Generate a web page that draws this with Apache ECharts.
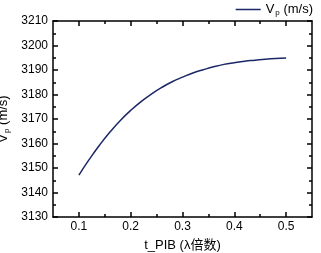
<!DOCTYPE html>
<html>
<head>
<meta charset="utf-8">
<script src="https://cdn.jsdelivr.net/npm/echarts@6/dist/echarts.min.js"></script>
<style>html,body{margin:0;padding:0;background:#fff;}#c{width:321px;height:253px;}</style>
</head>
<body>
<div id="c"></div>
<script>
const xValues = [0.10,0.12,0.14,0.16,0.18,0.20,0.22,0.24,0.26,0.28,0.30,0.32,0.34,0.36,0.38,0.40,0.42,0.44,0.46,0.48,0.50];
const vpValues = [3147.1,3153.5,3159.4,3164.7,3169.4,3173.5,3177.1,3180.2,3182.9,3185.2,3187.1,3188.8,3190.1,3191.3,3192.3,3193.0,3193.6,3194.0,3194.4,3194.7,3194.9];
const xMajorTicks = [0.1,0.2,0.3,0.4,0.5];
const xMinorTicks = [0.15,0.25,0.35,0.45];
const xTickLabels = ['0.1','0.2','0.3','0.4','0.5'];

const FONT = 'Liberation Sans, Arial, sans-serif';
const lineCol = '#1b2766';
const axisCol = '#000';

const chart = echarts.init(document.getElementById('c'), null, {renderer:'canvas'});
const baseX = {
  type:'value', min:0.05, max:0.55, gridIndex:0,
  splitLine:{show:false},
  axisLine:{show:true, lineStyle:{color:axisCol, width:1.5}},
};
const subRich = {
  v:{fontSize:13, fontFamily:FONT, color:'#000'},
  s:{fontSize:8, fontFamily:FONT, color:'#000', padding:[6,0,0,1]},
  n:{fontSize:13, fontFamily:FONT, color:'#000'}
};
chart.setOption({
  animation:false,
  backgroundColor:'#fff',
  grid:{left:53, right:9, top:21, bottom:36, containLabel:false, outerBoundsMode:'none'},
  legend:{
    show:true, right:8, top:3, padding:0,
    icon:'rect', itemWidth:25, itemHeight:1.5, itemGap:2,
    formatter:function(){return '{v|V}{s|p}{n| (m/s)}';},
    textStyle:{rich:subRich, fontFamily:FONT},
    data:[{name:'Vp'}]
  },
  xAxis:[
    Object.assign({}, baseX, {
      position:'bottom',
      name:'t_PIB (λ倍数)', nameLocation:'middle', nameGap:22,
      nameTextStyle:{fontSize:13, fontFamily:'Liberation Sans, Noto Sans CJK SC, sans-serif', color:'#000'},
      axisTick:{show:true, inside:true, length:5, lineStyle:{color:axisCol, width:1.5}, customValues:xMajorTicks},
      axisLabel:{show:true, margin:4, fontSize:12, fontFamily:FONT, color:'#000', customValues:xMajorTicks,
        formatter:function(v){const i = xMajorTicks.findIndex(t=>Math.abs(t-v)<1e-9); return i>=0?xTickLabels[i]:'';}}
    }),
    Object.assign({}, baseX, {
      position:'bottom', axisLine:{show:false},
      axisTick:{show:true, inside:true, length:3, lineStyle:{color:axisCol, width:1.5}, customValues:xMinorTicks},
      axisLabel:{show:false}
    }),
    Object.assign({}, baseX, {
      position:'top',
      axisTick:{show:true, inside:true, length:5, lineStyle:{color:axisCol, width:1.5}, customValues:xMajorTicks},
      axisLabel:{show:false}
    }),
    Object.assign({}, baseX, {
      position:'top', axisLine:{show:false},
      axisTick:{show:true, inside:true, length:3, lineStyle:{color:axisCol, width:1.5}, customValues:xMinorTicks},
      axisLabel:{show:false}
    })
  ],
  yAxis:[
    {
      type:'value', min:3130, max:3210, interval:10, position:'left',
      name:'{v|V}{s|p}{n| (m/s)}', nameLocation:'middle', nameGap:38, nameRotate:90,
      nameTextStyle:{rich:subRich},
      splitLine:{show:false},
      axisLine:{show:true, lineStyle:{color:axisCol, width:1.5}},
      axisTick:{show:true, inside:true, length:5, lineStyle:{color:axisCol, width:1.5}},
      minorTick:{show:true, splitNumber:2, length:3, lineStyle:{color:axisCol, width:1.5}},
      axisLabel:{margin:5, fontSize:12, fontFamily:FONT, color:'#000', formatter:function(v){return String(v);}}
    },
    {
      type:'value', min:3130, max:3210, interval:10, position:'right',
      splitLine:{show:false},
      axisLine:{show:true, lineStyle:{color:axisCol, width:1.5}},
      axisTick:{show:true, inside:true, length:5, lineStyle:{color:axisCol, width:1.5}},
      minorTick:{show:true, splitNumber:2, length:3, lineStyle:{color:axisCol, width:1.5}},
      axisLabel:{show:false}
    }
  ],
  series:[{
    name:'Vp', type:'line', xAxisIndex:0, yAxisIndex:0,
    data:xValues.map((x,i)=>[x, vpValues[i]]),
    smooth:true, showSymbol:false, symbol:'none',
    lineStyle:{color:lineCol, width:1.5}, itemStyle:{color:lineCol}
  }]
});
</script>
</body>
</html>
